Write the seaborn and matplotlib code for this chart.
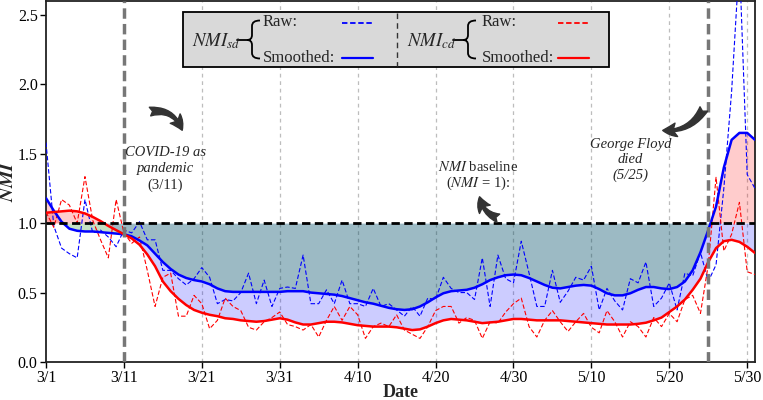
import numpy as np
import pandas as pd
import matplotlib
matplotlib.use("Agg")
import matplotlib.pyplot as plt
import seaborn as sns
from matplotlib.patches import Rectangle, PathPatch
from matplotlib.path import Path
from matplotlib.lines import Line2D

# ---------------- data ----------------
days = list(range(92))  # day 0 = 3/1 ... day 91 = 5/31
tick_days = [0, 10, 20, 30, 40, 50, 60, 70, 80, 90]
tick_labels = ["3/1", "3/11", "3/21", "3/31", "4/10", "4/20", "4/30", "5/10", "5/20", "5/30"]
event_days = [10, 85]  # 3/11 and 5/25

nmi_sd_raw = [1.58, 0.98, 0.82, 0.78, 0.75, 1.17, 0.93, 0.95, 0.90, 0.83,
              0.95, 0.93, 1.01, 0.88, 0.88, 0.66, 0.66, 0.60, 0.555, 0.60,
              0.68, 0.61, 0.42, 0.45, 0.44, 0.50, 0.64, 0.42, 0.59, 0.40,
              0.53, 0.54, 0.53, 0.77, 0.42, 0.42, 0.52, 0.42, 0.59, 0.42,
              0.42, 0.40, 0.53, 0.40, 0.42, 0.375, 0.33, 0.40, 0.33, 0.46,
              0.45, 0.61, 0.53, 0.50, 0.50, 0.45, 0.75, 0.40, 0.77, 0.60,
              0.57, 0.87, 0.64, 0.40, 0.40, 0.66, 0.43, 0.51, 0.61, 0.59,
              0.69, 0.375, 0.53, 0.44, 0.375, 0.60, 0.57, 0.72, 0.40, 0.46,
              0.57, 0.375, 0.64, 0.62, 0.79, 0.58, 0.70, 1.25, 1.95, 2.9,
              1.35, 1.25]
nmi_sd_smooth = [1.18, 1.09, 1.01, 0.96, 0.945, 0.94, 0.94, 0.935, 0.93, 0.925,
                 0.92, 0.905, 0.875, 0.84, 0.78, 0.72, 0.67, 0.63, 0.605, 0.59,
                 0.58, 0.56, 0.53, 0.51, 0.505, 0.505, 0.505, 0.505, 0.505, 0.505,
                 0.505, 0.51, 0.51, 0.51, 0.50, 0.495, 0.49, 0.485, 0.475, 0.46,
                 0.445, 0.43, 0.42, 0.405, 0.39, 0.38, 0.375, 0.38, 0.40, 0.43,
                 0.465, 0.495, 0.51, 0.515, 0.52, 0.535, 0.56, 0.59, 0.61, 0.625,
                 0.63, 0.625, 0.605, 0.58, 0.555, 0.535, 0.53, 0.54, 0.55, 0.555,
                 0.55, 0.525, 0.495, 0.48, 0.48, 0.495, 0.52, 0.54, 0.54, 0.53,
                 0.525, 0.54, 0.58, 0.66, 0.79, 0.95, 1.12, 1.40, 1.60, 1.65,
                 1.65, 1.60]
nmi_cd_raw = [1.08, 0.97, 1.17, 1.13, 1.00, 1.335, 1.02, 0.88, 0.75, 1.17,
              0.93, 0.855, 0.90, 0.66, 0.40, 0.61, 0.64, 0.33, 0.33, 0.48,
              0.42, 0.24, 0.30, 0.46, 0.40, 0.37, 0.25, 0.23, 0.29, 0.32,
              0.36, 0.27, 0.255, 0.23, 0.27, 0.18, 0.30, 0.40, 0.30, 0.40,
              0.34, 0.17, 0.255, 0.28, 0.255, 0.34, 0.23, 0.20, 0.17, 0.255,
              0.37, 0.40, 0.40, 0.28, 0.32, 0.30, 0.17, 0.29, 0.28, 0.36,
              0.42, 0.46, 0.255, 0.18, 0.30, 0.37, 0.29, 0.22, 0.29, 0.35,
              0.25, 0.21, 0.37, 0.29, 0.18, 0.29, 0.255, 0.18, 0.32, 0.255,
              0.35, 0.29, 0.45, 0.48, 0.35, 0.70, 1.33, 0.80, 0.92, 1.15,
              0.65, 0.63]
nmi_cd_smooth = [1.075, 1.08, 1.085, 1.09, 1.085, 1.07, 1.045, 1.015, 0.98, 0.95,
                 0.92, 0.89, 0.845, 0.775, 0.69, 0.58, 0.51, 0.455, 0.41, 0.375,
                 0.355, 0.34, 0.33, 0.315, 0.31, 0.30, 0.295, 0.29, 0.295, 0.305,
                 0.315, 0.305, 0.285, 0.27, 0.27, 0.28, 0.29, 0.29, 0.285, 0.275,
                 0.265, 0.26, 0.255, 0.255, 0.255, 0.25, 0.24, 0.23, 0.235, 0.255,
                 0.28, 0.30, 0.31, 0.305, 0.30, 0.29, 0.28, 0.285, 0.29, 0.30,
                 0.31, 0.31, 0.305, 0.30, 0.30, 0.30, 0.30, 0.295, 0.29, 0.285,
                 0.28, 0.275, 0.27, 0.27, 0.27, 0.27, 0.275, 0.283, 0.30, 0.32,
                 0.36, 0.40, 0.45, 0.52, 0.60, 0.72, 0.82, 0.87, 0.88, 0.865,
                 0.83, 0.785]

# ---------------- style ----------------
sns.set_style("ticks")
plt.rcParams["font.family"] = ["Liberation Serif", "DejaVu Serif"]
plt.rcParams["mathtext.fontset"] = "stix"

W, H = 763, 400
fig = plt.figure(figsize=(W / 100, H / 100), dpi=100)
ax = fig.add_axes([46 / W, 38 / H, 709 / W, 361 / H])


def P(x, y):
    return (x / W, 1 - y / H)


df = pd.DataFrame({"day": days, "sd_raw": nmi_sd_raw, "sd_s": nmi_sd_smooth,
                   "cd_raw": nmi_cd_raw, "cd_s": nmi_cd_smooth})
x = np.array(days, dtype=float)
bs = np.array(nmi_sd_smooth)
rs = np.array(nmi_cd_smooth)

# fills
ax.fill_between(x, rs, 1, where=rs < 1, interpolate=True, color="blue", alpha=0.2, lw=0, zorder=1)
ax.fill_between(x, bs, 1, where=bs < 1, interpolate=True, color="green", alpha=0.23, lw=0, zorder=1)
ax.fill_between(x, bs, 1, where=bs > 1, interpolate=True, color="red", alpha=0.2, lw=0, zorder=1)
ax.fill_between(x, rs, 1, where=rs > 1, interpolate=True, color="red", alpha=0.2, lw=0, zorder=1)

# light grid lines
for d in tick_days:
    if d not in (0, 10):
        ax.axvline(d, color="#bdbdbd", lw=0.9, ls=(0, (3, 3)), zorder=0.5)

# lines
sns.lineplot(data=df, x="day", y="sd_raw", color="blue", lw=0.8, ax=ax, zorder=3)
sns.lineplot(data=df, x="day", y="cd_raw", color="red", lw=0.8, ax=ax, zorder=3)
for ln in ax.lines[-2:]:
    ln.set_linestyle((0, (4, 2)))
sns.lineplot(data=df, x="day", y="sd_s", color="blue", lw=1.8, ax=ax, zorder=4)
sns.lineplot(data=df, x="day", y="cd_s", color="red", lw=1.8, ax=ax, zorder=4)

ax.axhline(1.0, color="black", lw=2.0, ls=(0, (3, 1.6)), zorder=5)
for d in event_days:
    ax.axvline(d, color="#777777", lw=2.5, ls=(0, (3, 1.5)), zorder=5)

ax.set_xlim(0, 91)
ax.set_ylim(0, 2.6)
ax.set_xticks(tick_days)
ax.set_xticklabels(tick_labels)
ax.set_yticks([0, 0.5, 1.0, 1.5, 2.0, 2.5])
ax.set_yticklabels(["0.0", "0.5", "1.0", "1.5", "2.0", "2.5"])
ax.tick_params(labelsize=11.5, length=4, width=1, direction="out", colors="black", pad=2)
ax.set_xlabel("Date", fontsize=13, fontweight="bold")
ax.xaxis.set_label_coords(0.5, -(384 - 362) / 361)
ax.set_ylabel("$\\boldsymbol{NMI}$", fontsize=14)
ax.yaxis.set_label_coords(-(46 - 17) / 709, 0.5)
for s in ax.spines.values():
    s.set_visible(True)
    s.set_color("#222222")
    s.set_linewidth(1.3)

# annotations
arrow_kw = dict(arrowstyle="fancy,head_length=0.7,head_width=0.7,tail_width=0.45",
                color="#333333", mutation_scale=14)
ax.annotate("", xy=(17.6, 1.65), xytext=(13.0, 1.80),
            arrowprops=dict(connectionstyle="arc3,rad=-0.45", **arrow_kw), zorder=6)
ax.annotate("", xy=(78.8, 1.67), xytext=(84.6, 1.84),
            arrowprops=dict(connectionstyle="arc3,rad=-0.35", **arrow_kw), zorder=6)
ax.annotate("", xy=(55.6, 1.21), xytext=(58.4, 1.03),
            arrowprops=dict(connectionstyle="arc3,rad=-0.35", **arrow_kw), zorder=6)

tk = dict(ha="center", va="center", fontsize=10.5, zorder=6)
ax.text(15.3, 1.51, "COVID-19 as", style="italic", **tk)
ax.text(15.3, 1.395, "pandemic", style="italic", **tk)
ax.text(15.3, 1.275, "(3/11)", **tk)
ax.text(75.0, 1.565, "George Floyd", style="italic", **tk)
ax.text(75.0, 1.455, "died", style="italic", **tk)
ax.text(75.0, 1.345, "(5/25)", style="italic", **tk)
ax.text(55.5, 1.405, "$NMI$ baseline", **tk)
ax.text(55.5, 1.285, "($NMI$ = 1):", **tk)

# ---------------- custom legend ----------------
fig.add_artist(Rectangle(P(183, 67), (609 - 183) / W, 55 / H, transform=fig.transFigure,
                         facecolor="#d9d9d9", edgecolor="black", lw=1.3, zorder=10))
fig.add_artist(Line2D([396.7 / W] * 2, [1 - 13 / H, 1 - 66 / H], transform=fig.transFigure,
                      color="#333333", lw=1.0, ls=(0, (4, 3)), zorder=11))


def brace(x0):
    # x0: x of the vertical stroke (px)
    verts = [(x0 + 8, 20.5), (x0, 20.5), (x0, 26),
             (x0, 35),
             (x0, 40), (x0 - 5, 40),
             (x0, 40), (x0, 45),
             (x0, 53),
             (x0, 58.5), (x0 + 8, 58.5)]
    codes = [Path.MOVETO, Path.CURVE3, Path.CURVE3, Path.LINETO,
             Path.CURVE3, Path.CURVE3, Path.CURVE3, Path.CURVE3,
             Path.LINETO, Path.CURVE3, Path.CURVE3]
    pts = [P(a, b) for a, b in verts]
    fig.add_artist(PathPatch(Path(pts, codes), transform=fig.transFigure, fill=False,
                             edgecolor="black", lw=1.3, zorder=11))
    fig.add_artist(Line2D([(x0 - 15) / W, (x0 - 5) / W], [1 - 40 / H] * 2,
                          transform=fig.transFigure, color="black", lw=1.3, zorder=11))


groups = [("$NMI_{sd}$", 216, 252, 263, "blue", 342),
          ("$NMI_{cd}$", 432, 468, 482, "red", 558)]
for lab, cx, bx, tx, col, lx in groups:
    fig.text(*P(cx, 41), lab, ha="center", va="center", fontsize=13.5, zorder=12)
    brace(bx)
    fig.text(*P(tx, 22.5), "Raw:", ha="left", va="center", fontsize=12, zorder=12)
    fig.text(*P(tx, 58.5), "Smoothed:", ha="left", va="center", fontsize=12, zorder=12)
    fig.add_artist(Line2D([lx / W, (lx + 31) / W], [1 - 22.5 / H] * 2, transform=fig.transFigure,
                          color=col, lw=1.3, ls=(0, (3, 1.5)), zorder=12))
    fig.add_artist(Line2D([lx / W, (lx + 31) / W], [1 - 58 / H] * 2, transform=fig.transFigure,
                          color=col, lw=1.6, zorder=12))

fig.savefig("out.png", dpi=100)
